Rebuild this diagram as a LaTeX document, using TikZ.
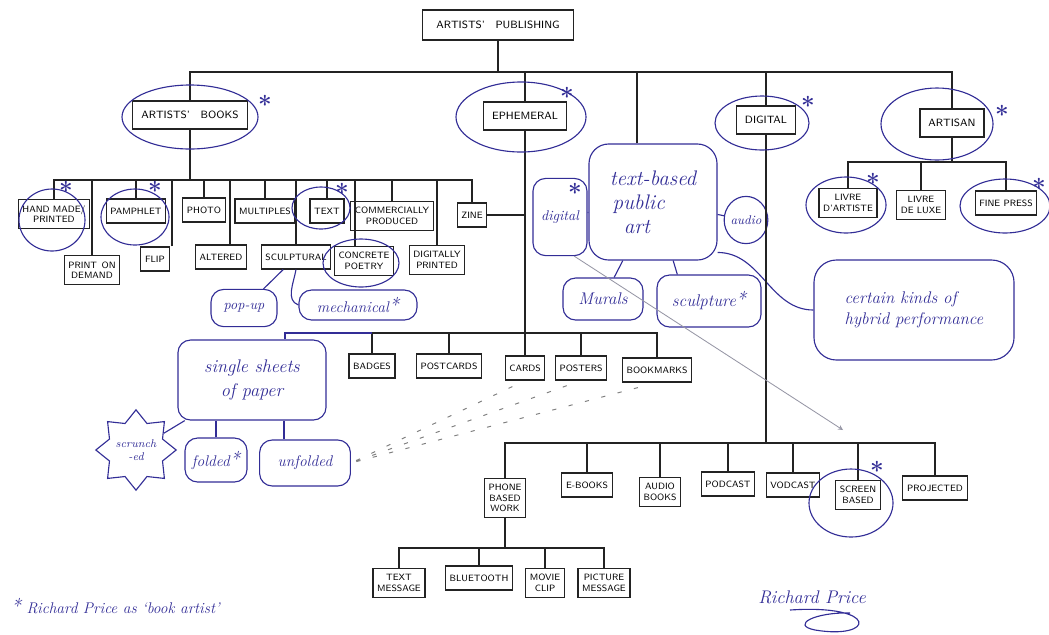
\documentclass[tikz,border=0pt]{standalone}
\usetikzlibrary{shapes.geometric,calc}
\definecolor{pen}{RGB}{35,35,35}
\definecolor{ink}{RGB}{50,45,150}
\definecolor{lead}{RGB}{150,150,165}
\tikzset{>=stealth}
\tikzset{
  box/.style={draw=pen, line width=0.8pt, font=\sffamily\fontsize{6.5}{7.5}\selectfont, align=center, inner xsep=3pt, inner ysep=4pt, minimum height=0.6cm},
  head/.style={box, font=\sffamily\fontsize{7.5}{9}\selectfont, inner xsep=6pt, minimum height=0.7cm},
  branch/.style={draw=pen, line width=0.8pt},
  blob/.style={draw=ink, line width=0.8pt, rounded corners=9pt, text=ink, align=center, font=\itshape\fontsize{11}{13}\selectfont},
  ring/.style={draw=ink, line width=0.8pt},
  twig/.style={draw=ink, line width=0.8pt},
  starmark/.style={text=ink, font=\bfseries\LARGE, inner sep=0pt},
  note/.style={text=ink, font=\itshape\fontsize{11}{13}\selectfont},
  pointer/.style={draw=lead, line width=0.6pt, ->},
  trail/.style={draw=gray, line width=0.7pt, dash pattern=on 3pt off 9pt, shorten <=4pt, shorten >=6pt}
}

\begin{document}
\begin{tikzpicture}[x=0.025cm, y=-0.025cm]
    \useasboundingbox (0,0) rectangle (1049,634);

    \node[head, inner xsep=10pt, minimum height=0.75cm] (pub) at (498,25) {ARTISTS'\quad PUBLISHING};
    \node[head] (ab) at (190,115) {ARTISTS'\quad BOOKS};
    \node[head] (eph) at (525,116) {EPHEMERAL};
    \node[head] (dig) at (766,120) {DIGITAL};
    \node[head] (art) at (952,123) {ARTISAN};
    \node[blob, minimum width=3.2cm, minimum height=2.9cm, align=left, rounded corners=14pt,
      font=\itshape\fontsize{15}{17}\selectfont] (tb) at (653,202) {text-based\\\hspace{2pt}public\\\hspace{10pt}art};

    \coordinate (pubbus) at (498,72);
    \draw[branch] (pub) -- (pub |- pubbus);
    \foreach \n in {ab,eph,dig,art}
      \draw[branch] (\n) |- (pubbus);
    \draw[branch] ($(tb.north)+(-16,0)$) |- (pubbus);

    % artists' books
    \node[box] (hand) at (54,214) {HAND MADE/\\PRINTED};
    \node[box] (pam) at (136,211) {PAMPHLET};
    \node[box] (photo) at (204,210) {PHOTO};
    \node[box] (mult) at (265,211) {MULTIPLES};
    \node[box] (text) at (327,211) {TEXT};
    \node[box] (comm) at (392,216) {COMMERCIALLY\\PRODUCED};
    \node[box] (zine) at (472,215) {ZINE};
    \node[box] (pod) at (92,270) {PRINT\enspace ON\\DEMAND};
    \node[box] (flip) at (155,259) {FLIP};
    \node[box] (alt) at (221,257) {ALTERED};
    \node[box] (sculp) at (296,257) {SCULPTURAL};
    \node[box] (conc) at (364,261) {CONCRETE\\POETRY};
    \node[box] (digp) at (437,260) {DIGITALLY\\PRINTED};

    \coordinate (abbus) at (190,180);
    \draw[branch] (ab) -- (ab |- abbus);
    \foreach \n in {hand,pam,photo,mult,text,comm,zine,pod,sculp,digp}
      \draw[branch] (\n) |- (abbus);
    \draw[branch] ($(flip.north)+(17,0)$) |- (abbus);
    \draw[branch] ($(alt.north)+(9,0)$) |- (abbus);
    \draw[branch] ($(conc.north)+(-9,0)$) |- (abbus);
    \draw[branch] (zine) -- (zine -| eph);

    \node[blob, minimum width=1.65cm, minimum height=0.93cm, font=\itshape\fontsize{10}{12}\selectfont] (popup) at (244,308) {pop-up};
    \node[blob, minimum width=2.95cm, minimum height=0.75cm] (mech) at (358,305) {mechanical{\Large*}};
    \draw[twig] (sculp) -- (popup);
    \draw[twig] (sculp.south) to[out=-100, in=160] (mech.west);

    % ephemeral
    \node[box] (badges) at (372,366) {BADGES};
    \node[box] (postc) at (449,366) {POSTCARDS};
    \node[box] (cards) at (525,368) {CARDS};
    \node[box] (posters) at (581,368) {POSTERS};
    \node[box] (bookm) at (657,370) {BOOKMARKS};
    \coordinate (ephbus) at (525,333);
    \draw[branch] (eph) -- (cards);
    \foreach \n in {badges,postc,posters,bookm}
      \draw[branch] (\n) |- (ephbus);

    \node[blob, minimum width=3.7cm, minimum height=2cm, font=\itshape\fontsize{13}{17}\selectfont] (sheets) at (252,380) {single sheets\\of paper};
    \draw[twig] ($(sheets.north)+(33,0)$) |- (badges |- ephbus);
    \node[blob, star, star points=8, star point ratio=1.4, sharp corners, minimum size=1.8cm, inner sep=0pt,
      font=\itshape\fontsize{8}{9}\selectfont] (scrunch) at (136,450) {scrunch\\-ed};
    \node[blob, minimum width=1.55cm, minimum height=1.1cm] (folded) at (216,460) {folded{\Large*}};
    \node[blob, minimum width=2.27cm, minimum height=1.15cm] (unfolded) at (305,463) {unfolded};
    \coordinate (ufdrop) at ($(unfolded.north)+(-21,0)$);
    \draw[twig] (scrunch) -- (sheets);
    \draw[twig] (folded.north) -- (folded.north |- sheets.south);
    \draw[twig] (ufdrop) -- (ufdrop |- sheets.south);
    \foreach \n in {cards,posters,bookm}
      \draw[trail] (unfolded.east) -- (\n.south);

    % text-based public art
    \node[blob, minimum width=1.35cm, minimum height=1.93cm, font=\itshape\fontsize{10}{12}\selectfont] (digblob) at (560,217) {digital};
    \node[blob, ellipse, minimum width=1cm, minimum height=1.18cm, inner sep=0pt, font=\itshape\fontsize{9}{11}\selectfont] (audio) at (746,220) {audio};
    \node[blob, minimum width=2cm, minimum height=1.05cm, font=\itshape\fontsize{12}{14}\selectfont] (murals) at (603,299) {Murals};
    \node[blob, minimum width=2.6cm, minimum height=1.3cm, font=\itshape\fontsize{12}{14}\selectfont] (sculpt) at (709,301) {sculpture{\Large*}};
    \node[blob, minimum width=5cm, minimum height=2.5cm, align=left, rounded corners=16pt, font=\itshape\fontsize{12}{15}\selectfont] (hybrid) at (914,310) {certain kinds of\\hybrid performance};
    \draw[twig] (digblob) -- (tb);
    \draw[twig] (audio) -- (tb);
    \draw[twig] (murals) -- (tb);
    \draw[twig] (sculpt.140) -- (tb.-71);
    \draw[twig] (tb.-38) to[out=0, in=180] (hybrid.west);

    % digital
    \node[box] (phone) at (505,498) {PHONE\\BASED\\WORK};
    \node[box] (ebooks) at (587,485) {E-BOOKS};
    \node[box] (audiob) at (660,492) {AUDIO\\BOOKS};
    \node[box] (podcast) at (728,484) {PODCAST};
    \node[box] (vodcast) at (793,485) {VODCAST};
    \node[box] (screen) at (858,495) {SCREEN\\BASED};
    \node[box] (proj) at (935,488) {PROJECTED};
    \coordinate (digbus) at (767,443);
    \draw[branch] (dig) -- (dig |- digbus);
    \foreach \n in {phone,ebooks,audiob,podcast,vodcast,screen,proj}
      \draw[branch] (\n) |- (digbus);

    \node[box] (tmsg) at (399,583) {TEXT\\MESSAGE};
    \node[box] (bluet) at (479,578) {BLUETOOTH};
    \node[box] (movie) at (545,583) {MOVIE\\CLIP};
    \node[box] (picmsg) at (604,583) {PICTURE\\MESSAGE};
    \coordinate (phonebus) at (505,548);
    \draw[branch] (phone) -- (phone |- phonebus);
    \foreach \n in {tmsg,bluet,movie,picmsg}
      \draw[branch] (\n) |- (phonebus);

    \coordinate (hook) at (843,430);
    \draw[pointer] (digblob.-70) -- (hook);

    % artisan
    \node[box] (livre) at (848,203) {LIVRE\\D'ARTISTE};
    \node[box] (luxe) at (921,205) {LIVRE\\DE LUXE};
    \node[box] (fine) at (1006,203) {FINE PRESS};
    \coordinate (artbus) at (952,162);
    \draw[branch] (art) -- (art |- artbus);
    \foreach \n in {livre,luxe,fine}
      \draw[branch] (\n) |- (artbus);

    % rings and stars
    \draw[ring] (190,117) ellipse [x radius=68, y radius=32];
    \draw[ring] (521,117) ellipse [x radius=65, y radius=35];
    \draw[ring] (762,123) ellipse [x radius=47, y radius=27];
    \draw[ring] (937,124) ellipse [x radius=56, y radius=36];
    \draw[ring] (52,220) ellipse [x radius=33, y radius=31];
    \draw[ring] (135,217) ellipse [x radius=34, y radius=28];
    \draw[ring] (321,208) ellipse [x radius=29, y radius=21];
    \draw[ring] (361,263) ellipse [x radius=38, y radius=24];
    \draw[ring] (846,205) ellipse [x radius=40, y radius=28];
    \draw[ring] (1005,206) ellipse [x radius=45, y radius=27];
    \draw[ring] (851,503) ellipse [x radius=42, y radius=34];
    \node[starmark] (abstar) at (265,104) {*};
    \node[starmark] (ephstar) at (567,96) {*};
    \node[starmark] (digstar) at (808,105) {*};
    \node[starmark] (artstar) at (1002,114) {*};
    \node[starmark] (handstar) at (66,190) {*};
    \node[starmark] (pamstar) at (155,190) {*};
    \node[starmark] (textstar) at (342,192) {*};
    \node[starmark] (livrestar) at (873,182) {*};
    \node[starmark] (finestar) at (1039,187) {*};
    \node[starmark] (screenstar) at (877,470) {*};
    \node[starmark] (digblobstar) at (575,192) {*};

    \node[note, anchor=west] (foot) at (6,606) {{\Large*} Richard Price as `book artist'};
    \node[note, font=\itshape\fontsize{13}{15}\selectfont] (sign) at (812,597) {Richard Price};
    \draw[twig] (790,610) .. controls (880,604) and (875,640) .. (815,630) .. controls (790,625) and (815,612) .. (850,613);
\end{tikzpicture}
\end{document}
